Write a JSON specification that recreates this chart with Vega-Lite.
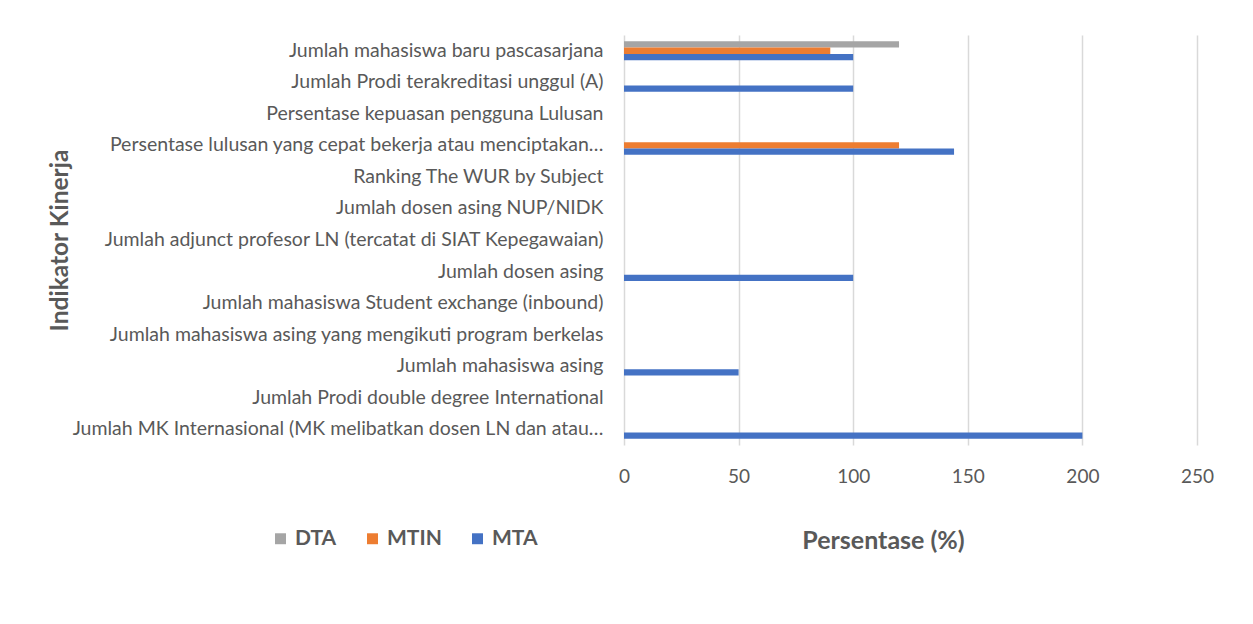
{
  "$schema": "https://vega.github.io/schema/vega-lite/v6.json",
  "autosize": {"type": "none"},
  "padding": {"left": 624, "top": 35, "right": 56, "bottom": 179},
  "width": 573,
  "height": 410,
  "background": "white",
  "data": {
    "values": [
      {"indikator": "Jumlah mahasiswa baru pascasarjana", "prodi": "DTA", "persen": 120},
      {"indikator": "Jumlah mahasiswa baru pascasarjana", "prodi": "MTIN", "persen": 90},
      {"indikator": "Jumlah mahasiswa baru pascasarjana", "prodi": "MTA", "persen": 100},
      {"indikator": "Jumlah Prodi terakreditasi unggul (A)", "prodi": "MTA", "persen": 100},
      {"indikator": "Persentase lulusan yang cepat bekerja atau menciptakan…", "prodi": "MTIN", "persen": 120},
      {"indikator": "Persentase lulusan yang cepat bekerja atau menciptakan…", "prodi": "MTA", "persen": 144},
      {"indikator": "Jumlah dosen asing\u00a0", "prodi": "MTA", "persen": 100},
      {"indikator": "Jumlah mahasiswa asing\u00a0", "prodi": "MTA", "persen": 50},
      {"indikator": "Jumlah MK Internasional (MK melibatkan dosen LN dan atau…", "prodi": "MTA", "persen": 200}
    ]
  },
  "mark": {"type": "bar"},
  "encoding": {
    "y": {
      "field": "indikator",
      "type": "nominal",
      "scale": {
        "domain": [
          "Jumlah mahasiswa baru pascasarjana",
          "Jumlah Prodi terakreditasi unggul (A)",
          "Persentase kepuasan pengguna Lulusan\u00a0",
          "Persentase lulusan yang cepat bekerja atau menciptakan…",
          "Ranking The WUR by Subject",
          "Jumlah dosen asing NUP/NIDK",
          "Jumlah adjunct profesor LN (tercatat di SIAT Kepegawaian)",
          "Jumlah dosen asing\u00a0",
          "Jumlah mahasiswa Student exchange (inbound)",
          "Jumlah mahasiswa asing yang mengikuti program berkelas\u00a0",
          "Jumlah mahasiswa asing\u00a0",
          "Jumlah Prodi double degree International",
          "Jumlah MK Internasional (MK melibatkan dosen LN dan atau…"
        ],
        "paddingInner": 0.4,
        "paddingOuter": 0.2
      },
      "axis": {
        "title": "Indikator Kinerja",
        "titleFont": "Lato",
        "titleFontSize": 24.5,
        "titleFontWeight": "bold",
        "titleColor": "#595959",
        "titleX": -564,
        "titleY": 205,
        "titleAngle": -90,
        "titleAlign": "center",
        "titleBaseline": "middle",
        "labelFont": "Lato",
        "labelFontSize": 19.5,
        "labelColor": "#595959",
        "labelPadding": 21,
        "labelLimit": 600,
        "ticks": false,
        "domain": false,
        "grid": false
      }
    },
    "yOffset": {
      "field": "prodi",
      "type": "nominal",
      "scale": {"domain": ["DTA", "MTIN", "MTA"], "paddingInner": 0, "paddingOuter": 0}
    },
    "x": {
      "field": "persen",
      "type": "quantitative",
      "scale": {"domain": [0, 250], "nice": false},
      "axis": {
        "title": "Persentase (%)",
        "titleFont": "Lato",
        "titleFontSize": 25,
        "titleFontWeight": "bold",
        "titleColor": "#595959",
        "titleX": 259,
        "titleY": 95,
        "titleAlign": "center",
        "titleBaseline": "middle",
        "values": [0, 50, 100, 150, 200, 250],
        "labelFont": "Lato",
        "labelFontSize": 19,
        "labelColor": "#595959",
        "labelPadding": 22,
        "labelFlush": false,
        "ticks": false,
        "domain": false,
        "grid": true,
        "gridColor": "#d9d9d9",
        "gridWidth": 1.5
      }
    },
    "color": {
      "field": "prodi",
      "type": "nominal",
      "scale": {"domain": ["DTA", "MTIN", "MTA"], "range": ["#A5A5A5", "#ED7D31", "#4472C4"]},
      "legend": {
        "title": null,
        "orient": "none",
        "legendX": -354,
        "legendY": 493,
        "direction": "horizontal",
        "symbolType": "square",
        "symbolSize": 120,
        "symbolStrokeWidth": 0,
        "labelFont": "Lato",
        "labelFontSize": 21,
        "labelFontWeight": "bold",
        "labelColor": "#595959",
        "columnPadding": 25,
        "labelOffset": 4
      }
    }
  },
  "config": {
    "view": {"stroke": null}
  }
}
